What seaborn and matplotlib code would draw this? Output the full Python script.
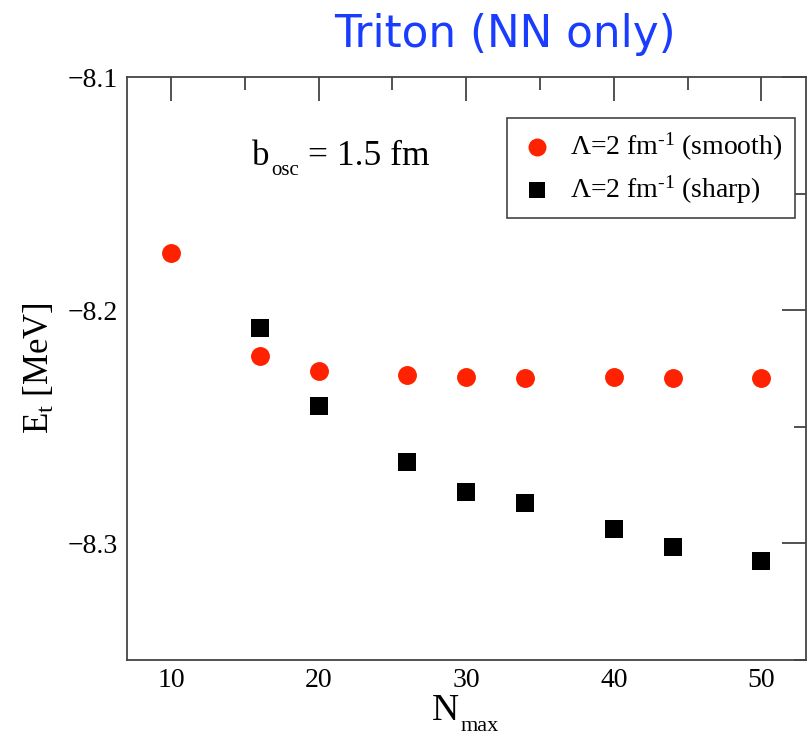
import matplotlib
matplotlib.use("Agg")
import matplotlib.pyplot as plt
from matplotlib.ticker import MultipleLocator
import seaborn as sns
import pandas as pd

# Triton binding energy vs. model-space size
n_smooth = [10, 16, 20, 26, 30, 34, 40, 44, 50]
e_smooth = [-8.1756, -8.2198, -8.2261, -8.2278, -8.2287, -8.2290, -8.2287, -8.2290, -8.2290]

n_sharp = [16, 20, 26, 30, 34, 40, 44, 50]
e_sharp = [-8.2077, -8.2409, -8.2651, -8.2779, -8.2828, -8.2937, -8.3016, -8.3076]

label_smooth = "\u039b=2 fm$^{\u20101}$ (smooth)"
label_sharp = "\u039b=2 fm$^{\u20101}$ (sharp)"

sns.set_theme(style="white")
plt.rcParams["font.family"] = ["Liberation Serif", "DejaVu Serif"]
plt.rcParams["mathtext.fontset"] = "custom"
plt.rcParams["mathtext.rm"] = "Liberation Serif"
plt.rcParams["mathtext.it"] = "Liberation Serif"
plt.rcParams["mathtext.default"] = "regular"
plt.rcParams["text.color"] = "black"
plt.rcParams["axes.labelcolor"] = "black"

df_smooth = pd.DataFrame({"N": n_smooth, "E": e_smooth})
df_sharp = pd.DataFrame({"N": n_sharp, "E": e_sharp})

fig = plt.figure(figsize=(8.07, 7.35), dpi=100)
ax = fig.add_axes([0.157, 0.1024, 0.8414, 0.7924])

sns.scatterplot(data=df_smooth, x="N", y="E", ax=ax, marker="o", s=185,
                color="#ff2200", linewidth=0, label=label_smooth, zorder=3)
sns.scatterplot(data=df_sharp, x="N", y="E", ax=ax, marker="s", s=150,
                color="black", linewidth=0, label=label_sharp, zorder=3)

ax.set_xlim(7, 53)
ax.set_ylim(-8.35, -8.1)
ax.xaxis.set_major_locator(MultipleLocator(10))
ax.xaxis.set_minor_locator(MultipleLocator(5))
ax.yaxis.set_major_locator(MultipleLocator(0.1))
ax.yaxis.set_minor_locator(MultipleLocator(0.05))
ax.tick_params(which="both", direction="in", top=True, right=True,
               colors="#333333", labelcolor="black", labelsize=20)
ax.tick_params(which="major", length=17, width=1.2)
ax.tick_params(which="minor", length=9, width=1.2)
ax.tick_params(axis="x", which="both", pad=6)
ax.tick_params(axis="y", which="both", pad=6.5)
ax.yaxis.set_major_formatter(plt.FuncFormatter(lambda v, p: f"\u2212{abs(v):.1f}"))
for s in ax.spines.values():
    s.set_color("#444444")
    s.set_linewidth(1.3)

# axis titles
ax.set_xlabel("")
ax.set_ylabel(r"E$_{\mathregular{t}}$ [MeV]", fontsize=25)
ax.yaxis.set_label_coords(-0.103, 0.5)

n_txt = ax.text(0.469, -0.1035, "N", transform=ax.transAxes, fontsize=27,
                ha="center", va="baseline")
ax.annotate("max", xy=(1, 0), xycoords=n_txt, xytext=(1, -5.5),
            textcoords="offset points", fontsize=16, ha="left", va="bottom")

# oscillator length annotation
b_txt = ax.text(0.1845, 0.8494, "b", transform=ax.transAxes, fontsize=25,
                ha="left", va="baseline")
osc_txt = ax.annotate("osc", xy=(1, 0), xycoords=b_txt, xytext=(1, -5),
                      textcoords="offset points", fontsize=15, ha="left", va="bottom")
ax.annotate("= 1.5 fm", xy=(1, 0), xycoords=(osc_txt, b_txt), xytext=(7, 0),
            textcoords="offset points", fontsize=25.5, ha="left", va="bottom")

leg = ax.legend(loc="upper right", bbox_to_anchor=(0.984, 0.930), fontsize=20,
                frameon=True, fancybox=False, framealpha=1, edgecolor="#444444",
                handletextpad=0.6, borderpad=0.45, labelspacing=0.38,
                markerscale=0.95, borderaxespad=0, handlelength=1.2)
leg.get_frame().set_linewidth(1.2)

fig.text(0.626, 0.953, "Triton (NN only)", ha="center", va="center",
         fontsize=31.5, color="#1a3cff", family=["DejaVu Sans"])

fig.savefig("out.png", dpi=100)
